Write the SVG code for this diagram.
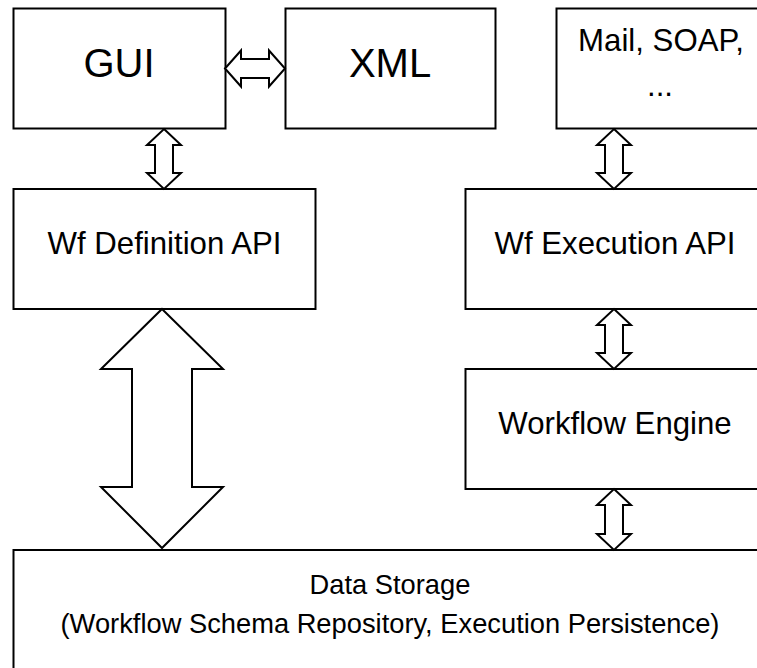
<svg xmlns="http://www.w3.org/2000/svg" width="757" height="668" viewBox="0 0 757 668">
<style>
.box{fill:#fff;stroke:#000;stroke-width:2}
.arr{fill:#fff;stroke:#000;stroke-width:2;stroke-linejoin:miter}
text{font-family:"Liberation Sans",Arial,sans-serif;fill:#000;text-anchor:middle}
.big{font-size:40px}
.mid{font-size:31.2px}
.sm{font-size:27.3px}
</style>
<rect width="757" height="668" fill="#fff"/>
<g id="gui"><rect class="box" x="13.5" y="8.5" width="212" height="120"/><text class="big" x="119" y="76.5">GUI</text></g>
<g id="xml"><rect class="box" x="285.5" y="8.5" width="210" height="120"/><text class="big" x="390" y="76.5">XML</text></g>
<g id="mail"><rect class="box" x="556.5" y="8.5" width="220" height="120"/><text class="mid" x="661" y="51">Mail, SOAP,</text><text class="mid" x="660" y="96">...</text></g>
<g id="wfdef"><rect class="box" x="13.5" y="189" width="302" height="120"/><text class="mid" x="164.5" y="254">Wf Definition API</text></g>
<g id="wfexec"><rect class="box" x="465.5" y="189" width="300" height="120"/><text class="mid" x="615" y="254">Wf Execution API</text></g>
<g id="engine"><rect class="box" x="465.5" y="369" width="300" height="120"/><text class="mid" x="615" y="434">Workflow Engine</text></g>
<g id="storage"><rect class="box" x="13.5" y="550" width="760" height="140"/><text class="sm" x="390" y="594">Data Storage</text><text class="sm" x="390" y="633">(Workflow Schema Repository, Execution Persistence)</text></g>
<g id="connectors">
<path class="arr" d="M225,68.5 L241,50.5 L241,59 L269,59 L269,50.5 L285,68.5 L269,86.5 L269,78 L241,78 L241,86.5 Z"/>
<path class="arr" d="M164,129 L181,145 L173,145 L173,173 L181,173 L164,189 L147,173 L155,173 L155,145 L147,145 Z"/>
<path class="arr" d="M614,129 L631,145 L623,145 L623,173 L631,173 L614,189 L597,173 L605,173 L605,145 L597,145 Z"/>
<path class="arr" d="M614,309 L631,325 L623,325 L623,353 L631,353 L614,369 L597,353 L605,353 L605,325 L597,325 Z"/>
<path class="arr" d="M614,489 L631,505 L623,505 L623,534 L631,534 L614,550 L597,534 L605,534 L605,505 L597,505 Z"/>
<path class="arr" d="M162,309 L223,369 L192,369 L192,487 L223,487 L162,548 L101,487 L132,487 L132,369 L101,369 Z"/>
</g>
</svg>
